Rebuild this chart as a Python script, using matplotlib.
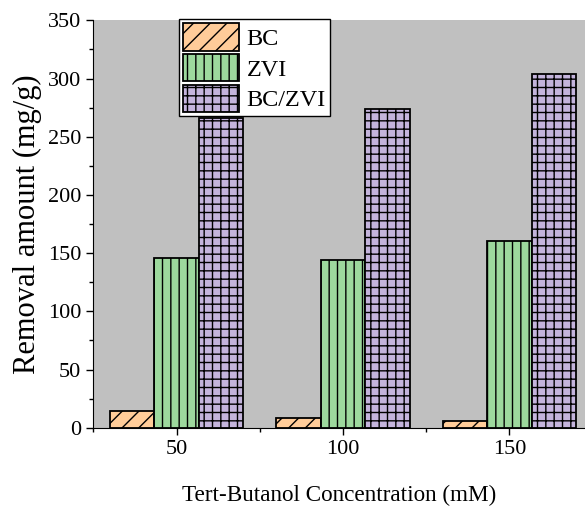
import matplotlib
matplotlib.use('Agg')
import matplotlib.pyplot as plt
import numpy as np
from matplotlib.ticker import MultipleLocator

plt.rcParams['font.family'] = ['Liberation Serif', 'DejaVu Serif']
plt.rcParams['hatch.linewidth'] = 1.0

concentrations = [50, 100, 150]
bc = [14, 8, 6]
zvi = [146, 144, 160]
bc_zvi = [266, 274, 304]
labels = ['BC', 'ZVI', 'BC/ZVI']
colors = ['#FFCC99', '#9DD89D', '#C4B4DC']
hatches = ['//', '||', '++']

fig = plt.figure(figsize=(5.85, 5.08), dpi=100)
ax = fig.add_axes([0.159, 0.158, 0.841, 0.802])
ax.set_facecolor('#C0C0C0')

x = np.array(concentrations, dtype=float)
w = 13.4
for i, (vals, lab, c, h) in enumerate(zip([bc, zvi, bc_zvi], labels, colors, hatches)):
    ax.bar(x + (i - 1) * w, vals, width=w, color=c, edgecolor='black',
           linewidth=1.3, hatch=h, label=lab, zorder=2)

ax.set_xlim(24.9, 172.7)
ax.set_ylim(0, 350)
ax.xaxis.set_major_locator(MultipleLocator(50))
ax.xaxis.set_minor_locator(MultipleLocator(25))
ax.yaxis.set_major_locator(MultipleLocator(50))
ax.yaxis.set_minor_locator(MultipleLocator(25))
ax.tick_params(which='major', direction='out', length=5, width=1, labelsize=16)
ax.tick_params(which='minor', direction='out', length=3, width=1)
ax.spines['top'].set_visible(False)
ax.spines['right'].set_visible(False)

ax.set_xlabel('Tert-Butanol Concentration (mM)', fontsize=16.7, labelpad=19)
ax.set_ylabel('Removal amount (mg/g)', fontsize=22, labelpad=4)

leg = ax.legend(loc='upper left', bbox_to_anchor=(0.175, 1.003), borderaxespad=0,
                fontsize=17.5, fancybox=False, framealpha=1, edgecolor='black',
                handlelength=2.3, handleheight=1.35, labelspacing=0.14,
                handletextpad=0.3, borderpad=0.17)
leg.get_frame().set_linewidth(1.0)

fig.savefig('out.png', dpi=100)
